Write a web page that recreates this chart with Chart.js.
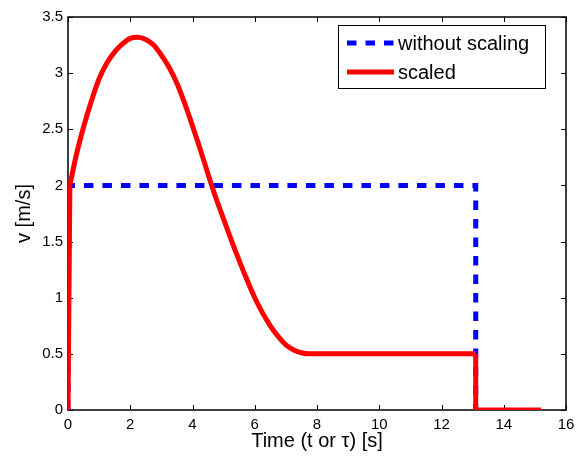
<!DOCTYPE html>
<html lang="en">
<head>
    <meta charset="UTF-8">
    <title>Velocity profile</title>
    <style>
        body { margin: 0; background: #fff; }
        #wrap { width: 582px; height: 458px; }
    </style>
</head>
<body>
    <div id="wrap"><canvas id="myChart" width="582" height="458"></canvas></div>
    <script src="https://cdn.jsdelivr.net/npm/chart.js"></script>
    <script>
        // values
        var rawTime = [0, 0, 13.1, 13.1];
        var rawSpeed = [0, 2, 2, 0];

        // smooth part of the scaled profile
        var scaledTime = [0.06, 0.25, 0.5, 0.75, 1.0, 1.25, 1.5, 1.75, 2.0, 2.25, 2.5, 2.75, 3.0, 3.25,
            3.5, 3.75, 4.0, 4.25, 4.5, 4.75, 5.0, 5.25, 5.5, 5.75, 6.0, 6.25, 6.5, 6.75, 7.0, 7.25,
            7.5, 7.75, 8.0, 13.1];
        var scaledSpeed = [2.0, 2.25, 2.52, 2.75, 2.95, 3.09, 3.19, 3.26, 3.31, 3.32, 3.3, 3.25, 3.16, 3.05,
            2.91, 2.73, 2.53, 2.32, 2.1, 1.89, 1.7, 1.51, 1.33, 1.16, 1.0, 0.865, 0.75, 0.655, 0.58, 0.535,
            0.51, 0.5, 0.5, 0.5];
        // jumps of the scaled profile (start and end)
        var stepTime = [0, 0.06, null, 13.1, 13.1, 15.2];
        var stepSpeed = [0, 2.0, null, 0.5, 0, 0];

        var seriesNames = ['without scaling', 'scaled'];
        var xTicks = [0, 2, 4, 6, 8, 10, 12, 14, 16];
        var yTicks = [0, 0.5, 1, 1.5, 2, 2.5, 3, 3.5];

        var FONT = "'Liberation Sans', Arial, Helvetica, sans-serif";

        function toPoints(xs, ys) {
            return xs.map(function (x, i) { return {x: x === null ? NaN : x, y: ys[i]}; });
        }

        // MATLAB style box with inward ticks on all four sides
        var boxPlugin = {
            id: 'box',
            beforeDatasetsDraw: function (chart) {
                var a = chart.chartArea, ctx = chart.ctx;
                var xs = chart.scales.x, ys = chart.scales.y;
                ctx.save();
                ctx.strokeStyle = '#000';
                ctx.lineWidth = 1.5;
                ctx.strokeRect(a.left, a.top, a.right - a.left, a.bottom - a.top);
                ctx.lineWidth = 1;
                ctx.beginPath();
                xTicks.forEach(function (v) {
                    var px = Math.round(xs.getPixelForValue(v)) + 0.5;
                    ctx.moveTo(px, a.bottom); ctx.lineTo(px, a.bottom - 5);
                    ctx.moveTo(px, a.top); ctx.lineTo(px, a.top + 5);
                });
                yTicks.forEach(function (v) {
                    var py = Math.round(ys.getPixelForValue(v)) + 0.5;
                    ctx.moveTo(a.left, py); ctx.lineTo(a.left + 5, py);
                    ctx.moveTo(a.right, py); ctx.lineTo(a.right - 5, py);
                });
                ctx.stroke();
                ctx.restore();
            },
            afterDatasetsDraw: function (chart) {
                // legend box in the upper right corner
                var a = chart.chartArea, ctx = chart.ctx;
                var left = a.right - 228, top = a.top + 8, w = 207, h = 63;
                ctx.save();
                ctx.fillStyle = '#fff';
                ctx.fillRect(left, top, w, h);
                ctx.strokeStyle = '#000';
                ctx.lineWidth = 1;
                ctx.strokeRect(left + 0.5, top + 0.5, w, h);
                var sets = chart.data.datasets;
                [0, 1].forEach(function (i) {
                    var ds = sets[i];
                    var y = top + 18 + i * 29;
                    ctx.beginPath();
                    ctx.strokeStyle = ds.borderColor;
                    ctx.lineWidth = ds.borderWidth;
                    ctx.lineCap = 'butt';
                    ctx.setLineDash(ds.borderDash || []);
                    ctx.moveTo(left + 9, y);
                    ctx.lineTo(left + 56, y);
                    ctx.stroke();
                    ctx.setLineDash([]);
                    ctx.fillStyle = '#000';
                    ctx.font = '20px ' + FONT;
                    ctx.textBaseline = 'middle';
                    ctx.fillText(ds.label, left + 60, y + 1);
                });
                ctx.restore();
            }
        };

        var ctx = document.getElementById('myChart').getContext('2d');
        var myChart = new Chart(ctx, {
            type: 'line',
            data: {
                datasets: [{
                    label: seriesNames[0],
                    data: toPoints(rawTime, rawSpeed),
                    borderColor: '#0000ff',
                    borderWidth: 5,
                    borderDash: [9.5, 9],
                    borderCapStyle: 'butt',
                    borderJoinStyle: 'miter',
                    pointRadius: 0,
                    tension: 0,
                    clip: 0,
                    order: 2
                }, {
                    label: seriesNames[1],
                    data: toPoints(scaledTime, scaledSpeed),
                    borderColor: '#ff0000',
                    borderWidth: 5,
                    borderJoinStyle: 'round',
                    cubicInterpolationMode: 'monotone',
                    pointRadius: 0,
                    clip: 0,
                    order: 0
                }, {
                    label: seriesNames[1],
                    data: toPoints(stepTime, stepSpeed),
                    borderColor: '#ff0000',
                    borderWidth: 5,
                    borderJoinStyle: 'miter',
                    pointRadius: 0,
                    tension: 0,
                    spanGaps: false,
                    clip: 0,
                    order: 1
                }]
            },
            options: {
                responsive: false,
                animation: false,
                layout: {padding: {top: 17, right: 16, left: 0, bottom: 0}},
                plugins: {legend: {display: false}, tooltip: {enabled: false}},
                scales: {
                    x: {
                        type: 'linear',
                        min: 0, max: 16,
                        afterBuildTicks: function (s) { s.ticks = xTicks.map(function (v) { return {value: v}; }); },
                        afterFit: function (s) { s.height = 48; },
                        grid: {display: false, drawTicks: false},
                        border: {display: false},
                        ticks: {color: '#000', padding: 6, font: {family: FONT, size: 15}, maxRotation: 0,
                            callback: function (v) { return String(v); }},
                        title: {display: true, text: 'Time (t or \u03c4) [s]', color: '#000',
                            font: {family: FONT, size: 20}, padding: {top: 0, bottom: 5}}
                    },
                    y: {
                        min: 0, max: 3.5,
                        afterBuildTicks: function (s) { s.ticks = yTicks.map(function (v) { return {value: v}; }); },
                        afterFit: function (s) { s.width = 68; },
                        grid: {display: false, drawTicks: false},
                        border: {display: false},
                        ticks: {color: '#000', padding: 5, font: {family: FONT, size: 15},
                            callback: function (v) { return String(v); }},
                        title: {display: true, text: 'v [m/s]', color: '#000',
                            font: {family: FONT, size: 20}, padding: {top: 12, bottom: 0}}
                    }
                }
            },
            plugins: [boxPlugin]
        });
    </script>
</body>
</html>
